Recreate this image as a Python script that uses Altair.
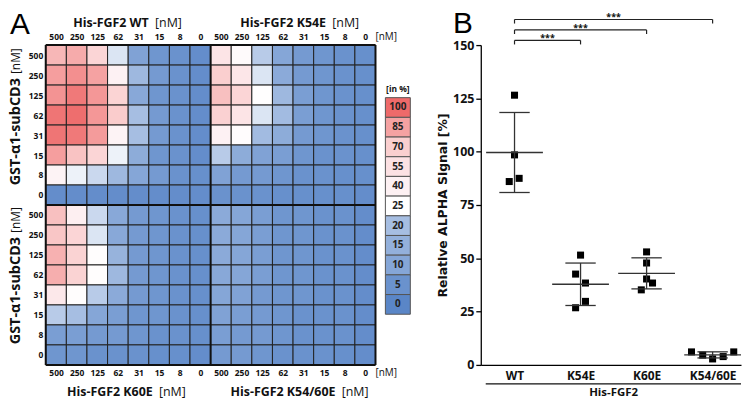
import altair as alt
import pandas as pd

# ---------------- data ----------------
conc_labels = ["500", "250", "125", "62", "31", "15", "8", "0"]

wt_values = [
    [78, 82, 65, 23, 9, 6, 5, 3],
    [86, 90, 85, 40, 18, 7, 5, 3],
    [89, 96, 88, 66, 11, 6, 5, 3],
    [97, 99, 88, 71, 20, 7, 5, 3],
    [97, 96, 87, 38, 20, 7, 5, 3],
    [86, 74, 65, 24, 13, 6, 5, 3],
    [38, 24, 22, 18, 10, 7, 5, 4],
    [3, 3, 3, 3, 3, 3, 3, 3],
]
k54e_values = [
    [52, 30, 21, 10, 7, 6, 5, 4],
    [70, 50, 23, 12, 7, 6, 5, 4],
    [75, 65, 26, 18, 8, 6, 5, 4],
    [68, 52, 23, 19, 8, 6, 5, 4],
    [40, 28, 19, 13, 7, 6, 5, 4],
    [21, 13, 9, 8, 6, 5, 5, 4],
    [9, 7, 7, 6, 5, 5, 4, 4],
    [5, 5, 5, 4, 4, 4, 4, 3],
]
k60e_values = [
    [75, 42, 22, 11, 7, 6, 5, 4],
    [73, 65, 23, 11, 7, 6, 5, 4],
    [80, 67, 27, 16, 7, 6, 5, 4],
    [81, 67, 27, 18, 7, 6, 5, 4],
    [48, 27, 21, 12, 7, 6, 5, 4],
    [21, 20, 10, 8, 6, 6, 5, 4],
    [8, 8, 7, 7, 6, 5, 5, 4],
    [6, 6, 5, 5, 5, 4, 4, 3],
]
k5460e_values = [
    [12, 10, 8, 6, 6, 5, 5, 3],
    [12, 10, 8, 6, 6, 5, 5, 3],
    [12, 10, 8, 6, 6, 5, 5, 3],
    [11, 10, 8, 6, 6, 5, 5, 3],
    [10, 9, 7, 6, 6, 5, 5, 3],
    [9, 8, 7, 6, 5, 5, 5, 3],
    [8, 7, 7, 6, 5, 5, 5, 3],
    [7, 7, 6, 5, 5, 5, 4, 3],
]

legend_values = [100, 85, 70, 55, 40, 25, 20, 15, 10, 5, 0]
legend_colors = ["#ee6a6a", "#f5a2a2", "#facfcf", "#fce1e3", "#fdf1f3", "#ffffff",
                 "#a6bee2", "#93b0db", "#85a6d7", "#6a92cd", "#5a86c7"]

groups = ["WT", "K54E", "K60E", "K54/60E"]
wt_signal = [126.5, 98.5, 86.0, 87.5]
k54e_signal = [51.5, 42.6, 38.4, 29.8, 26.8]
k60e_signal = [53.0, 47.8, 40.3, 38.4, 35.2]
k5460e_signal = [6.1, 4.6, 2.8, 3.9, 6.1]
wt_jitter = [0.0, 0.0, -0.08, 0.07]
k54e_jitter = [0.0, -0.075, 0.075, 0.075, -0.075]
k60e_jitter = [0.0, 0.0, 0.0, 0.09, -0.08]
k5460e_jitter = [-0.32, -0.15, 0.0, 0.16, 0.32]
sig_targets = [1, 2, 3]
sig_text = ["***", "***", "***"]

FONT = "Open Sans"
WIDE = "DejaVu Sans"

# ---------------- panel A : heatmap ----------------
heat_rows = []
for vals, cx, ry in [(wt_values, 0, 0), (k54e_values, 8, 0), (k60e_values, 0, 8), (k5460e_values, 8, 8)]:
    for r in range(8):
        for c in range(8):
            heat_rows.append(dict(x=cx + c, x2=cx + c + 1, y=ry + r, y2=ry + r + 1, value=vals[r][c]))
heat = pd.DataFrame(heat_rows)

color_scale = alt.Scale(domain=legend_values[::-1], range=legend_colors[::-1], interpolate="rgb")

xs = alt.Scale(domain=[0, 16], nice=False, zero=False)
ys = alt.Scale(domain=[0, 16], nice=False, zero=False, reverse=True)


def hx(field, axis=None):
    return alt.X(field, type="quantitative", scale=xs, axis=axis)


def hy(field, axis=None):
    return alt.Y(field, type="quantitative", scale=ys, axis=axis)


ticks16 = [i + 0.5 for i in range(16)]
lab_expr = "[" + ",".join("'%s'" % l for l in conc_labels) + "][floor(datum.value) % 8]"
ax_common = dict(values=ticks16, labelExpr=lab_expr, ticks=False, domain=False, grid=False,
                 labelFontSize=8.5, labelFontWeight="bold", labelColor="#111",
                 labelFlush=False, labelOverlap=False, title=None, labelAngle=0)

heat_layer = alt.Chart(heat).mark_rect(stroke="#222", strokeWidth=1).encode(
    x=hx("x", alt.Axis(orient="top", labelPadding=4, **ax_common)),
    x2="x2:Q",
    y=hy("y", alt.Axis(orient="left", labelPadding=3, **ax_common)),
    y2="y2:Q",
    color=alt.Color("value:Q", scale=color_scale, legend=None),
)

lines = pd.DataFrame(
    [dict(x=a, x2=a, y=0, y2=16) for a in (0, 8, 16)] + [dict(x=0, x2=16, y=a, y2=a) for a in (0, 8, 16)]
)
grid_layer = alt.Chart(lines).mark_rule(color="#111", strokeWidth=2).encode(
    x=hx("x", alt.Axis(orient="bottom", labelPadding=4, **ax_common)),
    x2="x2:Q",
    y=hy("y"),
    y2="y2:Q",
)

leg_top, leg_step, leg_x1, leg_x2 = 2.63, 0.985, 16.48, 17.69
leg = pd.DataFrame(dict(value=legend_values, label=[str(v) for v in legend_values]))
leg["y"] = [leg_top + i * leg_step for i in range(len(leg))]
leg["y2"] = leg["y"] + leg_step
leg["yc"] = leg["y"] + leg_step / 2
leg["x"] = leg_x1
leg["x2"] = leg_x2
leg["xc"] = (leg_x1 + leg_x2) / 2

legend_rect = alt.Chart(leg).mark_rect(stroke="#555", strokeWidth=1).encode(
    x=hx("x"), x2="x2:Q", y=hy("y"), y2="y2:Q",
    color=alt.Color("value:Q", scale=color_scale, legend=None),
)
legend_text = alt.Chart(leg).mark_text(font=FONT, fontSize=10, fontWeight="bold", color="#222",
                                       baseline="middle").encode(
    x=hx("xc"), y=hy("yc"), text="label:N")


def tlayer(df, **mark):
    mark.setdefault("font", FONT)
    return alt.Chart(pd.DataFrame(df)).mark_text(color="#111", **mark).encode(
        x=hx("x"), y=hy("y"), text="label:N")


titles_bold = tlayer(dict(label=["His-FGF2 WT", "His-FGF2 K54E", "His-FGF2 K60E", "His-FGF2 K54/60E"],
                          x=[5.0, 13.6, 5.19, 14.06], y=[-1.08, -1.08, 17.37, 17.37]),
                     fontSize=12.5, fontWeight="bold", align="right", baseline="middle")
titles_nm = tlayer(dict(label=["[nM]"] * 4,
                        x=[5.3, 13.9, 5.49, 14.36], y=[-1.08, -1.08, 17.37, 17.37]),
                   fontSize=12.5, align="left", baseline="middle")
axis_nm = tlayer(dict(label=["[nM]", "[nM]"], x=[16.0, 16.0], y=[-0.38, 16.41]),
                 fontSize=10, align="left", baseline="middle")
gst_bold = tlayer(dict(label=["GST-\u03b11-subCD3"] * 2, x=[-1.42, -1.42], y=[1.65, 9.6]),
                  fontSize=14.5, fontWeight="bold", align="right", baseline="middle", angle=270)
gst_nm = tlayer(dict(label=["[nM]"] * 2, x=[-1.42, -1.42], y=[1.45, 9.4]),
                fontSize=12, align="left", baseline="middle", angle=270)
in_pct = tlayer(dict(label=["[in %]"], x=[(leg_x1 + leg_x2) / 2], y=[2.22]),
                fontSize=8.5, fontWeight="bold", align="center", baseline="middle")
label_a = alt.Chart(pd.DataFrame(dict(label=["A"], x=[-1.73], y=[-0.57]))).mark_text(
    font="Liberation Sans", fontSize=30, color="#000", align="left", baseline="alphabetic").encode(
    x=hx("x"), y=hy("y"), text="label:N")

left = alt.layer(heat_layer, grid_layer, legend_rect, legend_text, titles_bold, titles_nm,
                 axis_nm, gst_bold, gst_nm, in_pct, label_a).resolve_axis(
    x="independent", y="independent").properties(width=332, height=322)

# ---------------- panel B : scatter ----------------
pt_rows = []
for gi, (vals, jit) in enumerate(zip([wt_signal, k54e_signal, k60e_signal, k5460e_signal],
                                     [wt_jitter, k54e_jitter, k60e_jitter, k5460e_jitter])):
    for v, j in zip(vals, jit):
        pt_rows.append(dict(gi=gi, value=v, xpos=gi + j))
pts = pd.DataFrame(pt_rows)

sx = alt.Scale(domain=[-0.511, 3.43], nice=False, zero=False)
sy = alt.Scale(domain=[0, 150], nice=False, zero=False)


def px(field, axis=None):
    return alt.X(field, type="quantitative", scale=sx, axis=axis)


def py(field, axis=None):
    return alt.Y(field, type="quantitative", scale=sy, axis=axis)


grp_expr = "[" + ",".join("'%s'" % g for g in groups) + "][datum.value]"
x_axis = alt.Axis(orient="bottom", values=[0, 1, 2, 3], labelExpr=grp_expr, ticks=False,
                  domain=True, domainColor="#000", domainWidth=1.3, grid=False, title=None,
                  labelFontSize=12, labelFontWeight="bold", labelColor="#111", labelPadding=6,
                  labelFlush=False, labelOverlap=False)
y_axis = alt.Axis(orient="left", values=[0, 25, 50, 75, 100, 125, 150], tickSize=5,
                  tickColor="#000", tickWidth=1.3, domainColor="#000", domainWidth=1.3, grid=False,
                  labelFontSize=12.5, labelFontWeight="bold", labelColor="#111", labelPadding=2,
                  labelFlush=False, labelOverlap=False,
                  title="Relative ALPHA Signal [%]", titleFont=WIDE, titleFontSize=12.5,
                  titleFontWeight="bold", titleColor="#111", titlePadding=3)

points = alt.Chart(pts).mark_point(shape="square", filled=True, color="#000", size=50, opacity=1).encode(
    x=px("xpos", x_axis), y=py("value", y_axis))

stats = alt.Chart(pts).transform_aggregate(
    mean="mean(value)", sd="stdev(value)", groupby=["gi"]
).transform_calculate(
    lo="datum.mean - datum.sd", hi="datum.mean + datum.sd",
    ml="datum.gi - 0.43", mr="datum.gi + 0.43", cl="datum.gi - 0.23", cr="datum.gi + 0.23",
)
line_style = dict(color="#333", strokeWidth=1.3)
mean_rule = stats.mark_rule(**line_style).encode(x=px("ml"), x2="mr:Q", y=py("mean"))
sd_rule = stats.mark_rule(**line_style).encode(x=px("gi"), y=py("lo"), y2="hi:Q")
cap_hi = stats.mark_rule(**line_style).encode(x=px("cl"), x2="cr:Q", y=py("hi"))
cap_lo = stats.mark_rule(**line_style).encode(x=px("cl"), x2="cr:Q", y=py("lo"))

br = pd.DataFrame(dict(target=sig_targets, label=sig_text))
br["level"] = [152.2, 157.1, 162.0]
br["start"] = 0
br["low"] = br["level"] - 1.9
br["mid"] = br["target"] / 2
br_style = dict(color="#222", strokeWidth=1.2)
br_h = alt.Chart(br).mark_rule(**br_style).encode(x=px("start"), x2="target:Q", y=py("level"))
br_l = alt.Chart(br).mark_rule(**br_style).encode(x=px("start"), y=py("level"), y2="low:Q")
br_r = alt.Chart(br).mark_rule(**br_style).encode(x=px("target"), y=py("level"), y2="low:Q")
br_t = alt.Chart(br).mark_text(font=FONT, fontSize=9, fontWeight="bold", color="#111",
                               baseline="alphabetic", dy=1).encode(
    x=px("mid"), y=py("level"), text="label:N")

under = alt.Chart(pd.DataFrame(dict(x=[-0.436], x2=[3.43], y=[-8.9]))).mark_rule(
    color="#111", strokeWidth=1.3).encode(x=px("x"), x2="x2:Q", y=py("y"))
his = alt.Chart(pd.DataFrame(dict(label=["His-FGF2"], x=[1.5], y=[-13.4]))).mark_text(
    font=FONT, fontSize=11.5, fontWeight="bold", color="#111", baseline="middle").encode(
    x=px("x"), y=py("y"), text="label:N")
label_b = alt.Chart(pd.DataFrame(dict(label=["B"], x=[-0.93], y=[155.5]))).mark_text(
    font="Liberation Sans", fontSize=30, color="#000", align="left", baseline="alphabetic").encode(
    x=px("x"), y=py("y"), text="label:N")

right = alt.layer(points, mean_rule, sd_rule, cap_hi, cap_lo, br_h, br_l, br_r, br_t,
                  under, his, label_b).resolve_axis(
    x="independent", y="independent").properties(width=262, height=322)

chart = alt.hconcat(left, right, spacing=106, bounds="flush").properties(
    padding=0, background="white"
).configure_view(stroke=None).configure_axis(labelFont=FONT, titleFont=FONT)

chart.save("out.html", embed_options={"renderer": "svg", "actions": False})
